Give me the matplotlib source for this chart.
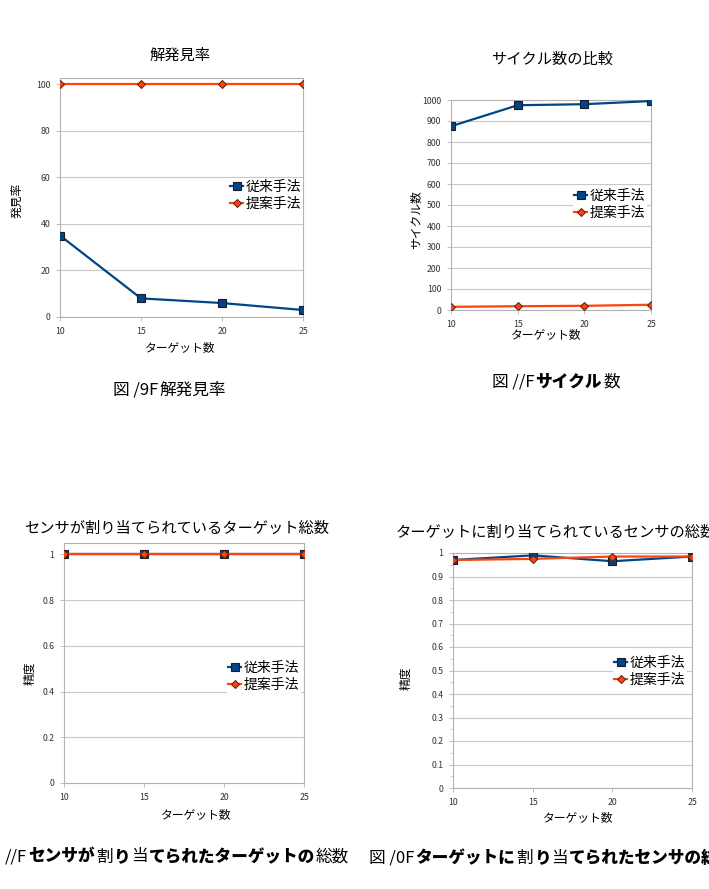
import matplotlib
matplotlib.use("Agg")
import matplotlib.pyplot as plt
from matplotlib.ticker import MultipleLocator, FuncFormatter

plt.rcParams['font.family'] = ['Noto Sans CJK JP', 'DejaVu Sans']

# data
targets = [10, 15, 20, 25]
series_names = ['従来手法', '提案手法']

rate_old = [35, 8, 6, 3]
rate_new = [100, 100, 100, 100]

cycle_old = [875, 975, 980, 995]
cycle_new = [15, 18, 20, 25]

sensor_old = [1, 1, 1, 1]
sensor_new = [1, 1, 1, 1]

target_old = [0.97, 0.99, 0.965, 0.985]
target_new = [0.97, 0.975, 0.985, 0.985]

W, H = 709, 889
BLUE = '#004586'
ORANGE = '#ff420e'
GRID = '#c8c8c8'


def rect(l, r, top, bottom):
    return [l / W, 1 - bottom / H, (r - l) / W, (bottom - top) / H]


def px(x, y):
    return x / W, 1 - y / H


def draw(fig, box, old, new, ylim, ystep, ylabel, title, title_xy, xlabel_xy,
         ylabel_xy, legend_xy, yfmt=None, minor=None, title_ha='center'):
    ax = fig.add_axes(rect(*box))
    ax.plot(targets, old, color=BLUE, lw=1.6, marker='s', ms=5.5,
            mfc=BLUE, mec='#1a1a2a', mew=0.8, label=series_names[0], zorder=3)
    ax.plot(targets, new, color=ORANGE, lw=1.6, marker='D', ms=4,
            mfc=ORANGE, mec='#502010', mew=0.7, label=series_names[1], zorder=4)
    ax.set_xlim(10, 25)
    ax.set_ylim(*ylim)
    ax.set_xticks(targets)
    ax.yaxis.set_major_locator(MultipleLocator(ystep))
    if minor:
        ax.yaxis.set_minor_locator(MultipleLocator(minor))
    if yfmt:
        ax.yaxis.set_major_formatter(yfmt)
    ax.grid(axis='y', color=GRID, lw=0.8)
    ax.set_axisbelow(True)
    for s in ax.spines.values():
        s.set_color('#b3b3b3')
        s.set_linewidth(0.8)
    ax.tick_params(labelsize=6.3, colors='#b3b3b3', labelcolor='#333333',
                   length=3, width=0.6, pad=4)
    ax.tick_params(which='minor', length=2, width=0.5, colors='#b3b3b3')
    fig.text(*px(*title_xy), title, fontsize=11, ha=title_ha, va='center')
    fig.text(*px(*xlabel_xy), 'ターゲット数', fontsize=8.5, ha='center', va='center')
    fig.text(*px(*ylabel_xy), ylabel, fontsize=8.5, ha='center', va='center',
             rotation=90)
    fig.legend(handles=ax.get_lines(), loc='center left',
               bbox_to_anchor=px(*legend_xy), fontsize=10, frameon=True,
               facecolor='white', edgecolor='none', framealpha=1,
               handlelength=0.9, handletextpad=0.2, labelspacing=0.2,
               borderpad=0.1, fancybox=False)
    return ax


def chain(fig, x, y, parts):
    # write caption pieces one after another, each with its own weight
    r = fig.canvas.get_renderer()
    for s, w in parts:
        t = fig.text(*px(x, y), s, fontsize=12, ha='left', va='center',
                     fontweight=w)
        x += t.get_window_extent(r).width + 1


fig = plt.figure(figsize=(W / 100, H / 100), dpi=100)
fig.patch.set_facecolor('white')

draw(fig, (60, 303, 78, 317), rate_old, rate_new, (0, 102.7), 20, '発見率',
     '解発見率', (180, 55), (180, 348), (17, 200), (222, 195))
draw(fig, (451, 651, 100, 310), cycle_old, cycle_new, (0, 1000), 100, 'サイクル数',
     'サイクル数の比較', (552, 59), (546, 335), (416, 220), (566, 204))
fmt = FuncFormatter(lambda v, p: f'{v:g}')
draw(fig, (64, 304, 543, 783), sensor_old, sensor_new, (0, 1.05), 0.2, '精度',
     'センサが割り当てられているターゲット総数', (177, 528), (196, 815),
     (30, 673), (220, 676), yfmt=fmt)
draw(fig, (453, 692, 553, 788), target_old, target_new, (0, 1), 0.1, '精度',
     'ターゲットに割り当てられているセンサの総数', (396, 532), (578, 818),
     (406, 678), (606, 671), yfmt=fmt, minor=0.05, title_ha='left')

# figure captions (scanned, partly garbled glyphs)
chain(fig, 113, 390, [('図 /9F', 'normal'), ('解発見率', 'normal')])
chain(fig, 492, 382, [('図 //F', 'normal'), ('サイクル', 'black'),
                      ('数', 'normal')])
chain(fig, 5, 857, [('//F', 'normal'), ('センサが', 'black'), ('割', 'normal'),
                    ('り', 'black'), ('当', 'normal'),
                    ('てられたターゲットの', 'black'), ('総数', 'normal')])
chain(fig, 369, 858, [('図 /0F', 'normal'), ('ターゲットに', 'black'),
                      ('割', 'normal'), ('り', 'black'), ('当', 'normal'),
                      ('てられたセンサの総数', 'black')])

fig.savefig('out.png', dpi=100)
